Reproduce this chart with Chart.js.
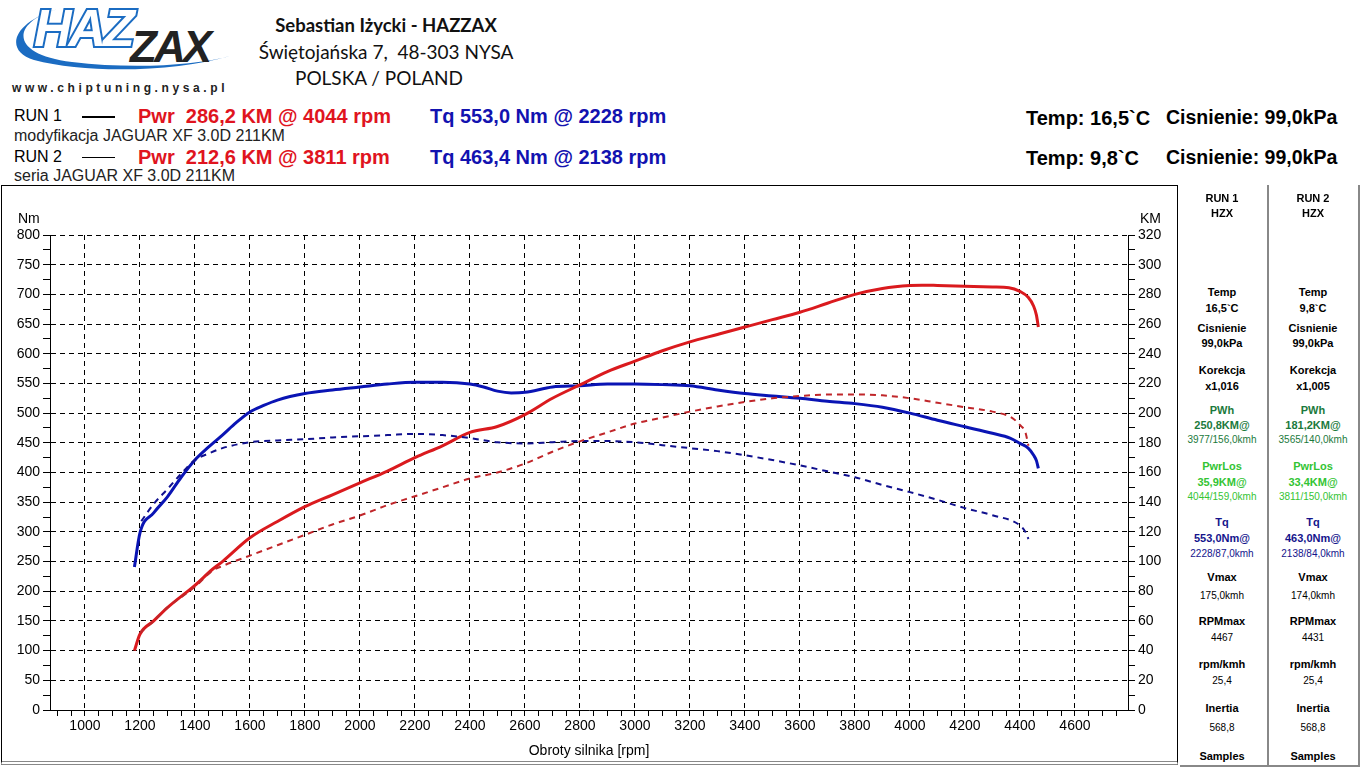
<!DOCTYPE html>
<html>
<head>
<meta charset="utf-8">
<script src="https://cdn.jsdelivr.net/npm/chart.js@4.4.1/dist/chart.umd.min.js"></script>
<style>
  body { margin: 0; background: #fff; font-family: "Liberation Sans", Arial, sans-serif; }
  #page { position: relative; width: 1360px; height: 768px; overflow: hidden; }
  .t { position: absolute; white-space: nowrap; line-height: 1; }
  .hd { font-family: Lato, "Open Sans", sans-serif; font-size: 19px; color: #111; width: 400px; left: 186px; text-align: center; }
  .big { font-weight: bold; font-size: 20px; }
  .red { color: #e0141e; }
  .blu { color: #1212b0; }
  #box { position: absolute; left: 1px; top: 185px; width: 1175px; height: 575px; border: 1px solid #000; border-bottom: 4px double #888; }
  #wrap { position: absolute; left: 2px; top: 186px; width: 1174px; height: 574px; }
  #panel { position: absolute; left: 1180px; top: 185px; width: 178px; height: 580px; border-right: 2px solid #888; border-bottom: 2px solid #888; }
  #sep { position: absolute; left: 1267px; top: 185px; width: 2px; height: 582px; background: #888; }
  .p { position: absolute; width: 86px; text-align: center; font-size: 10px; line-height: 1; white-space: nowrap; }
  .pb { font-weight: bold; font-size: 11px; }
</style>
</head>
<body>
<div id="page">

  <svg style="position:absolute;left:6px;top:0px" width="230" height="78">
    <path d="M56 8 C6 20 0 54 66 62 C124 69 188 66 224 56 C170 72 80 74 28 60 C-4 50 8 20 56 8 Z" fill="#1b6cc2"/>
    <text x="28" y="46" font-family="Liberation Sans" font-weight="bold" font-style="italic" font-size="52" fill="#fff" stroke="#1b6cc2" stroke-width="4" paint-order="stroke" letter-spacing="-3">HAZ</text>
    <text x="124" y="62" font-family="Liberation Sans" font-weight="bold" font-style="italic" font-size="44" fill="#222" letter-spacing="-3">ZAX</text>
  </svg>
  <div class="t" style="left:12px;top:82px;font-size:12px;font-weight:bold;letter-spacing:3.6px;color:#222">www.chiptuning.nysa.pl</div>

  <div class="t hd" style="top:16px;font-weight:bold;font-size:18.5px">Sebastian Iżycki - HAZZAX</div>
  <div class="t hd" style="top:42px">Świętojańska 7,&nbsp; 48-303 NYSA</div>
  <div class="t hd" style="top:68px;left:179px">POLSKA / POLAND</div>

  <div class="t" style="left:14px;top:108px;font-size:16px">RUN 1</div>
  <div style="position:absolute;left:82px;top:116px;width:33px;height:2px;background:#000"></div>
  <div class="t big red" style="left:138px;top:106px">Pwr&nbsp; 286,2 KM @ 4044 rpm</div>
  <div class="t big blu" style="left:430px;top:106px">Tq 553,0 Nm @ 2228 rpm</div>
  <div class="t" style="left:14px;top:128px;font-size:16px;color:#222">modyfikacja JAGUAR XF 3.0D 211KM</div>

  <div class="t" style="left:14px;top:149px;font-size:16px">RUN 2</div>
  <div style="position:absolute;left:82px;top:157px;width:33px;height:1px;background:#000"></div>
  <div class="t big red" style="left:138px;top:147px">Pwr&nbsp; 212,6 KM @ 3811 rpm</div>
  <div class="t big blu" style="left:430px;top:147px">Tq 463,4 Nm @ 2138 rpm</div>
  <div class="t" style="left:14px;top:168px;font-size:16px;color:#222">seria JAGUAR XF 3.0D 211KM</div>

  <div class="t big" style="left:1026px;top:108px">Temp: 16,5`C</div>
  <div class="t big" style="left:1166px;top:108px;font-size:19.5px">Cisnienie: 99,0kPa</div>
  <div class="t big" style="left:1026px;top:148px">Temp: 9,8`C</div>
  <div class="t big" style="left:1166px;top:148px;font-size:19.5px">Cisnienie: 99,0kPa</div>

  <div id="box"></div>
  <div id="wrap"><canvas id="dyno"></canvas></div>
  <div class="t" style="left:18px;top:211px;font-size:14px">Nm</div>
  <div class="t" style="left:1140px;top:211px;font-size:14px">KM</div>

  <div id="panel"></div>
  <div id="sep"></div>
</div>

<script>
// --- run 1 (modyfikacja) ---
var rpmTq1 = [1180, 1200, 1250, 1300, 1350, 1400, 1450, 1500, 1550, 1600, 1650, 1700, 1800, 1900, 2000, 2100, 2200, 2300, 2400, 2450, 2500, 2550, 2600, 2700, 2800, 2900, 3000, 3100, 3200, 3300, 3400, 3500, 3600, 3700, 3800, 3900, 4000, 4100, 4200, 4300, 4364, 4400, 4430, 4450, 4460, 4467];
var tq1    = [241, 298, 332, 359, 392, 421, 443, 463, 484, 502, 513, 522, 533, 539, 544, 549, 552, 552, 549, 544, 537, 534, 535, 544, 546, 549, 549, 548, 546, 539, 533, 529, 525, 520, 516, 510, 500, 488, 477, 466, 458, 449, 441, 429, 420, 407];

var rpmPwr1 = [1180, 1200, 1250, 1300, 1400, 1465, 1500, 1600, 1700, 1800, 1900, 2000, 2100, 2200, 2300, 2400, 2500, 2600, 2700, 2800, 2900, 3000, 3100, 3200, 3300, 3400, 3500, 3600, 3700, 3800, 3900, 4000, 4044, 4100, 4200, 4300, 4360, 4400, 4430, 4450, 4460, 4467];
var pwr1    = [40, 51, 60, 69, 84, 95, 100, 116, 127, 137, 145, 153, 161, 170, 178, 187, 191, 199, 210, 219, 228, 235, 242, 248, 253, 258, 263, 268, 274, 280, 284, 286, 286.2, 286, 285.5, 285, 284.5, 282, 278, 272, 266, 258];

// --- run 2 (seria) ---
var rpmTq2 = [1205, 1250, 1300, 1350, 1400, 1450, 1500, 1600, 1700, 1800, 1900, 2000, 2100, 2200, 2300, 2400, 2500, 2600, 2700, 2800, 2900, 3000, 3100, 3200, 3300, 3400, 3500, 3600, 3700, 3800, 3900, 4000, 4100, 4200, 4300, 4400, 4420, 4431];
var tq2    = [318, 347, 372, 398, 421, 432, 441, 451, 454, 456, 459, 461, 463, 465, 463, 458, 451, 449, 451, 453, 453, 451, 446, 441, 436, 429, 421, 412, 402, 392, 379, 367, 354, 340, 328, 311, 300, 288];

var rpmPwr2 = [1200, 1250, 1300, 1400, 1465, 1500, 1600, 1700, 1800, 1900, 2000, 2100, 2200, 2300, 2400, 2500, 2600, 2700, 2800, 2900, 3000, 3100, 3200, 3300, 3400, 3500, 3600, 3700, 3811, 3900, 4000, 4100, 4200, 4300, 4370, 4400, 4420, 4431];
var pwr2    = [52, 60, 69, 83, 94, 97, 104, 111, 118, 125, 131, 138, 144, 150, 156, 160, 166, 174, 181, 187, 193, 197, 201, 204.5, 207.5, 210, 211.5, 212.5, 212.6, 212, 210, 207, 204, 201, 197, 192, 187, 178];

// axis ranges / labels
var rpmMin = 873, rpmMax = 4793;
var rpmLabels = [1000, 1200, 1400, 1600, 1800, 2000, 2200, 2400, 2600, 2800, 3000, 3200, 3400, 3600, 3800, 4000, 4200, 4400, 4600];
var nmLabels = [0, 50, 100, 150, 200, 250, 300, 350, 400, 450, 500, 550, 600, 650, 700, 750, 800];
var kmLabels = [0, 20, 40, 60, 80, 100, 120, 140, 160, 180, 200, 220, 240, 260, 280, 300, 320];

// side panel
var panelRows = [
  [199, 'RUN 1', 'RUN 2', 'b', '#000'],
  [214, 'HZX', 'HZX', 'b', '#000'],
  [293, 'Temp', 'Temp', 'b', '#000'],
  [309, '16,5`C', '9,8`C', 'b', '#000'],
  [329, 'Cisnienie', 'Cisnienie', 'b', '#000'],
  [344, '99,0kPa', '99,0kPa', 'b', '#000'],
  [371, 'Korekcja', 'Korekcja', 'b', '#000'],
  [387, 'x1,016', 'x1,005', 'b', '#000'],
  [411, 'PWh', 'PWh', 'b', '#1b7a3c'],
  [426, '250,8KM@', '181,2KM@', 'b', '#1b7a3c'],
  [441, '3977/156,0kmh', '3565/140,0kmh', 'n', '#1b7a3c'],
  [467, 'PwrLos', 'PwrLos', 'b', '#33c433'],
  [483, '35,9KM@', '33,4KM@', 'b', '#33c433'],
  [498, '4044/159,0kmh', '3811/150,0kmh', 'n', '#33c433'],
  [523, 'Tq', 'Tq', 'b', '#14148c'],
  [539, '553,0Nm@', '463,0Nm@', 'b', '#14148c'],
  [555, '2228/87,0kmh', '2138/84,0kmh', 'n', '#14148c'],
  [578, 'Vmax', 'Vmax', 'b', '#000'],
  [597, '175,0kmh', '174,0kmh', 'n', '#000'],
  [622, 'RPMmax', 'RPMmax', 'b', '#000'],
  [639, '4467', '4431', 'n', '#000'],
  [665, 'rpm/kmh', 'rpm/kmh', 'b', '#000'],
  [682, '25,4', '25,4', 'n', '#000'],
  [709, 'Inertia', 'Inertia', 'b', '#000'],
  [729, '568,8', '568,8', 'n', '#000'],
  [757, 'Samples', 'Samples', 'b', '#000']
];

var page = document.getElementById('page');
panelRows.forEach(function (r) {
  [[1179, r[1]], [1270, r[2]]].forEach(function (c) {
    var d = document.createElement('div');
    d.className = 'p' + (r[3] === 'b' ? ' pb' : '');
    d.style.left = c[0] + 'px';
    d.style.top = (r[0] - 6) + 'px';
    d.style.color = r[4];
    d.textContent = c[1];
    page.appendChild(d);
  });
});

function pts(xs, ys) {
  return xs.map(function (x, i) { return { x: x, y: ys[i] }; });
}
function stepTicks(min, max, step) {
  var out = [];
  for (var v = min; v <= max; v += step) out.push({ value: v });
  return out;
}

var tickFont = { family: 'Liberation Sans', size: 14 };
var dash = [5, 4];

var ctx = document.getElementById('dyno').getContext('2d');
var dynoChart = new Chart(ctx, {
  type: 'line',
  data: {
    datasets: [
      { label: 'Pwr 2', data: pts(rpmPwr2, pwr2), yAxisID: 'yKM', borderColor: '#c0262a', borderWidth: 2, borderDash: [6, 5] },
      { label: 'Tq 2', data: pts(rpmTq2, tq2), yAxisID: 'yNm', borderColor: '#10108e', borderWidth: 2, borderDash: [6, 5] },
      { label: 'Pwr 1', data: pts(rpmPwr1, pwr1), yAxisID: 'yKM', borderColor: '#da1a1e', borderWidth: 3 },
      { label: 'Tq 1', data: pts(rpmTq1, tq1), yAxisID: 'yNm', borderColor: '#0a14b4', borderWidth: 3 }
    ]
  },
  options: {
    responsive: true,
    maintainAspectRatio: false,
    animation: false,
    elements: { point: { radius: 0 }, line: { cubicInterpolationMode: 'monotone', fill: false } },
    layout: { padding: { top: 49, left: 0, right: 0, bottom: 0 } },
    plugins: { legend: { display: false }, tooltip: { enabled: false } },
    scales: {
      x: {
        type: 'linear', position: 'bottom', min: rpmMin, max: rpmMax,
        afterBuildTicks: function (s) { s.ticks = stepTicks(900, 4750, 50); },
        afterFit: function (s) { s.height = 50; },
        grid: {
          color: function (c) { return c.tick && rpmLabels.indexOf(c.tick.value) >= 0 ? '#000' : 'rgba(0,0,0,0)'; },
          tickColor: '#000', tickLength: 6, lineWidth: 1
        },
        border: { display: true, color: '#000', width: 1, dash: dash },
        ticks: {
          autoSkip: false, maxRotation: 0, padding: 2, color: '#000', font: tickFont,
          callback: function (v) { return rpmLabels.indexOf(v) >= 0 ? String(v) : ''; }
        },
        title: { display: true, text: 'Obroty silnika [rpm]', color: '#000', font: tickFont, padding: { top: 2, bottom: 0 } }
      },
      yNm: {
        type: 'linear', position: 'left', min: 0, max: 800,
        afterBuildTicks: function (s) { s.ticks = stepTicks(0, 800, 25); },
        afterFit: function (s) { s.width = 48; },
        grid: {
          color: function (c) { return c.tick && nmLabels.indexOf(c.tick.value) >= 0 && c.tick.value > 0 ? '#000' : 'rgba(0,0,0,0)'; },
          tickColor: '#000', tickLength: 7, lineWidth: 1
        },
        border: { display: true, color: '#000', width: 1, dash: dash },
        ticks: {
          autoSkip: false, padding: 3, color: '#000', font: tickFont,
          callback: function (v) { return nmLabels.indexOf(v) >= 0 ? String(v) : ''; }
        }
      },
      yKM: {
        type: 'linear', position: 'right', min: 0, max: 320,
        afterBuildTicks: function (s) { s.ticks = stepTicks(0, 320, 10); },
        afterFit: function (s) { s.width = 48; },
        grid: { drawOnChartArea: false, tickColor: '#000', tickLength: 7, lineWidth: 1 },
        border: { display: true, color: '#000', width: 1 },
        ticks: {
          autoSkip: false, padding: 3, color: '#000', font: tickFont,
          callback: function (v) { return kmLabels.indexOf(v) >= 0 ? String(v) : ''; }
        }
      }
    }
  }
});
</script>
</body>
</html>
